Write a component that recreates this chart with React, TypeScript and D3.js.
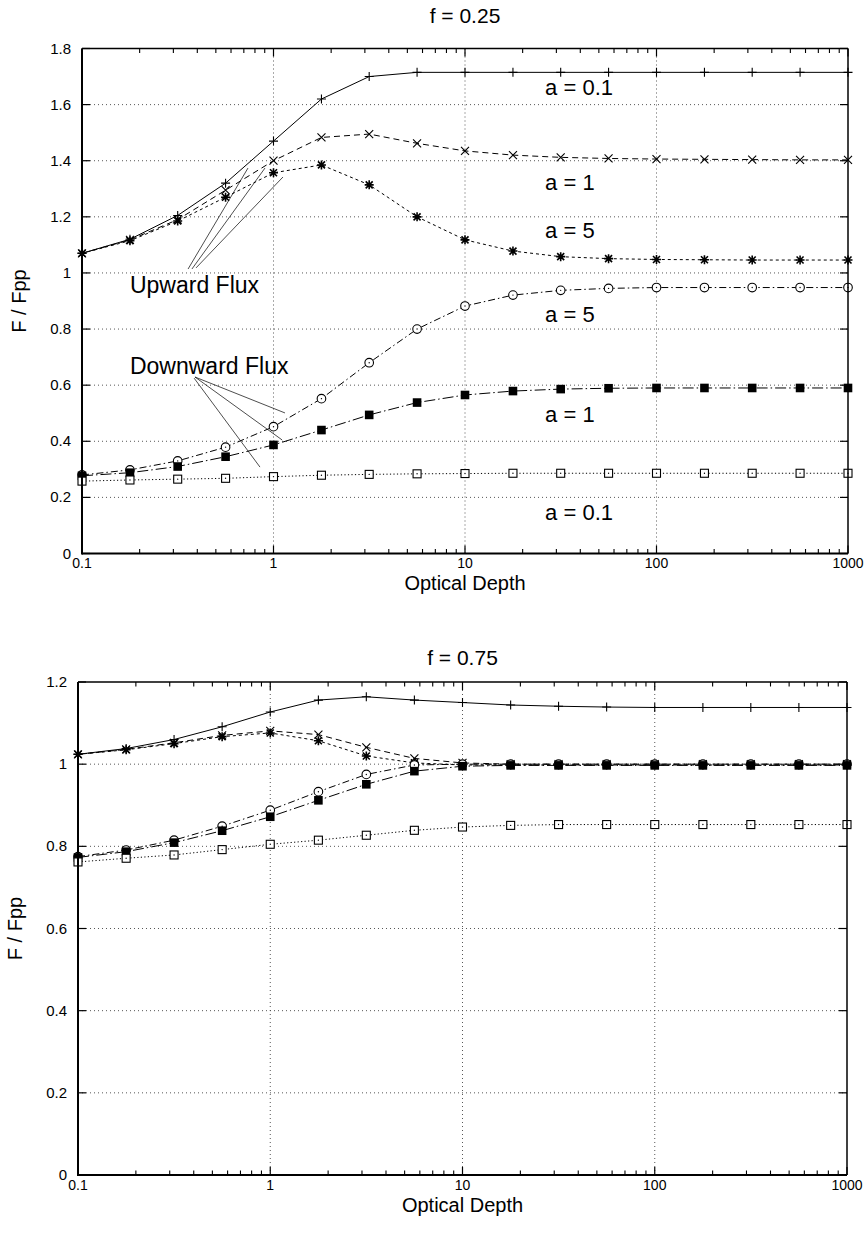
import React from 'react';
import * as d3 from 'd3';

// ---------- DATA ----------
const depths = [0.1, 0.178, 0.316, 0.562, 1, 1.78, 3.16, 5.62, 10, 17.8, 31.6, 56.2, 100, 178, 316, 562, 1000];

const xTicks = [0.1, 1, 10, 100, 1000];
const xTickLabels = ['0.1', '1', '10', '100', '1000'];
const yTicksTop = [0, 0.2, 0.4, 0.6, 0.8, 1, 1.2, 1.4, 1.6, 1.8];
const yTickLabelsTop = ['0', '0.2', '0.4', '0.6', '0.8', '1', '1.2', '1.4', '1.6', '1.8'];
const yTicksBottom = [0, 0.2, 0.4, 0.6, 0.8, 1, 1.2];
const yTickLabelsBottom = ['0', '0.2', '0.4', '0.6', '0.8', '1', '1.2'];

// f = 0.25
const upA01F25 = [1.07, 1.12, 1.205, 1.32, 1.47, 1.62, 1.70, 1.715, 1.715, 1.715, 1.715, 1.715, 1.715, 1.715, 1.715, 1.715, 1.715];
const upA1F25 = [1.07, 1.118, 1.19, 1.295, 1.40, 1.483, 1.495, 1.462, 1.435, 1.42, 1.412, 1.408, 1.406, 1.405, 1.404, 1.403, 1.403];
const upA5F25 = [1.07, 1.115, 1.185, 1.27, 1.357, 1.385, 1.314, 1.20, 1.118, 1.078, 1.058, 1.051, 1.048, 1.047, 1.046, 1.046, 1.046];
const dnA5F25 = [0.28, 0.298, 0.33, 0.379, 0.452, 0.552, 0.68, 0.80, 0.882, 0.921, 0.938, 0.945, 0.948, 0.948, 0.948, 0.948, 0.948];
const dnA1F25 = [0.277, 0.288, 0.31, 0.345, 0.387, 0.44, 0.494, 0.538, 0.565, 0.579, 0.586, 0.589, 0.59, 0.59, 0.59, 0.59, 0.59];
const dnA01F25 = [0.258, 0.262, 0.265, 0.268, 0.274, 0.279, 0.282, 0.284, 0.285, 0.286, 0.286, 0.286, 0.286, 0.286, 0.286, 0.286, 0.286];

// f = 0.75
const upA01F75 = [1.024, 1.038, 1.060, 1.091, 1.127, 1.156, 1.164, 1.156, 1.150, 1.144, 1.141, 1.139, 1.138, 1.138, 1.138, 1.138, 1.138];
const upA1F75 = [1.024, 1.036, 1.052, 1.07, 1.081, 1.072, 1.041, 1.014, 1.003, 1.0, 1.0, 1.0, 1.0, 1.0, 1.0, 1.0, 1.0];
const upA5F75 = [1.024, 1.035, 1.05, 1.067, 1.076, 1.057, 1.02, 1.003, 0.998, 0.998, 0.998, 0.998, 0.998, 0.998, 0.998, 0.998, 0.998];
const dnA5F75 = [0.775, 0.791, 0.815, 0.849, 0.888, 0.933, 0.975, 0.998, 1.0, 1.0, 1.0, 1.0, 1.0, 1.0, 1.0, 1.0, 1.0];
const dnA1F75 = [0.773, 0.787, 0.809, 0.838, 0.872, 0.912, 0.951, 0.983, 0.995, 0.997, 0.997, 0.997, 0.997, 0.997, 0.997, 0.997, 0.997];
const dnA01F75 = [0.762, 0.771, 0.779, 0.792, 0.805, 0.815, 0.827, 0.839, 0.847, 0.851, 0.853, 0.853, 0.853, 0.853, 0.853, 0.853, 0.853];

// annotation texts (data coords: optical depth, F/Fpp)
const curveLabelsTop = [
  { text: 'a = 0.1', x: 26.2, y: 1.634 },
  { text: 'a = 1', x: 26.2, y: 1.296 },
  { text: 'a = 5', x: 26.2, y: 1.125 },
  { text: 'a = 5', x: 26.2, y: 0.825 },
  { text: 'a = 1', x: 26.2, y: 0.469 },
  { text: 'a = 0.1', x: 26.2, y: 0.12 },
];
const fluxLabelsTop = [
  { text: 'Upward Flux', x: 0.178, y: 0.929 },
  { text: 'Downward Flux', x: 0.178, y: 0.640 },
];
// leader lines [x0, y0, x1, y1] in data coords
const leadersTop = [
  [0.358, 1.014, 0.736, 1.374],
  [0.375, 1.014, 0.903, 1.374],
  [0.394, 1.018, 1.121, 1.342],
  [0.389, 0.629, 1.148, 0.501],
  [0.389, 0.629, 1.108, 0.405],
  [0.385, 0.625, 0.850, 0.308],
];

const FONT = '"Liberation Sans", Arial, Helvetica, sans-serif';

type Style = { dash: string; marker: string };
const styles: Style[] = [
  { dash: 'none', marker: 'plus' },
  { dash: '6,4', marker: 'cross' },
  { dash: '3,3', marker: 'star' },
  { dash: '7,3,1.5,3', marker: 'circle' },
  { dash: '11,3,1.5,3', marker: 'fsquare' },
  { dash: '1.2,2.3', marker: 'osquare' },
];

function Marker({ type, x, y }: { type: string; x: number; y: number }) {
  const s = 4.5;
  const st = { stroke: '#000', strokeWidth: 1.1, fill: 'none' };
  if (type === 'plus')
    return <path d={`M${x - s},${y}H${x + s}M${x},${y - s}V${y + s}`} {...st} />;
  if (type === 'cross')
    return <path d={`M${x - 4},${y - 4}L${x + 4},${y + 4}M${x - 4},${y + 4}L${x + 4},${y - 4}`} {...st} />;
  if (type === 'star')
    return (
      <path
        d={`M${x - s},${y}H${x + s}M${x},${y - s}V${y + s}M${x - 3.5},${y - 3.5}L${x + 3.5},${y + 3.5}M${x - 3.5},${y + 3.5}L${x + 3.5},${y - 3.5}`}
        stroke="#000" strokeWidth={1.6} fill="none"
      />
    );
  if (type === 'circle')
    return (
      <g>
        <circle cx={x} cy={y} r={4.3} fill="#fff" stroke="#000" strokeWidth={1.1} />
        <circle cx={x} cy={y} r={0.7} fill="#000" />
      </g>
    );
  if (type === 'fsquare') return <rect x={x - 4.3} y={y - 4.3} width={8.6} height={8.6} fill="#000" />;
  return (
    <g>
      <rect x={x - 4} y={y - 4} width={8} height={8} fill="#fff" stroke="#000" strokeWidth={1.1} />
      <circle cx={x} cy={y} r={0.7} fill="#000" />
    </g>
  );
}

type PanelProps = {
  x0: number; x1: number; yTop: number; yBot: number;
  yMax: number; yTicks: number[]; yLabels: string[];
  title: string; titleY: number; xLabelY: number; xTitleY: number;
  series: number[][];
  curveLabels?: { text: string; x: number; y: number }[];
  fluxLabels?: { text: string; x: number; y: number }[];
  leaders?: number[][];
};

function Panel(p: PanelProps) {
  const x = d3.scaleLog().domain([0.1, 1000]).range([p.x0, p.x1]);
  const y = d3.scaleLinear().domain([0, p.yMax]).range([p.yBot, p.yTop]);
  const line = d3.line<number>().x((_, i) => x(depths[i])).y((v) => y(v));
  const minor: number[] = [];
  for (let dec = 0.1; dec < 1000; dec *= 10) for (let k = 2; k <= 9; k++) minor.push(dec * k);
  const cx = (p.x0 + p.x1) / 2;
  const cy = (p.yTop + p.yBot) / 2;
  return (
    <g fontFamily={FONT}>
      {/* grid */}
      {p.yTicks.slice(1, -1).map((t) => (
        <line key={'gy' + t} x1={p.x0} x2={p.x1} y1={y(t)} y2={y(t)} stroke="#444" strokeWidth={0.9} strokeDasharray="1,3" />
      ))}
      {xTicks.slice(1, -1).map((t) => (
        <line key={'gx' + t} x1={x(t)} x2={x(t)} y1={p.yTop} y2={p.yBot} stroke="#444" strokeWidth={0.9} strokeDasharray="1,3" />
      ))}
      {/* series lines */}
      {p.series.map((s, i) => (
        <path key={'l' + i} d={line(s) || ''} fill="none" stroke="#000" strokeWidth={1}
          strokeDasharray={styles[i].dash === 'none' ? undefined : styles[i].dash} />
      ))}
      {/* markers */}
      {p.series.map((s, i) => (
        <g key={'m' + i}>
          {s.map((v, j) => <Marker key={j} type={styles[i].marker} x={x(depths[j])} y={y(v)} />)}
        </g>
      ))}
      {/* leaders */}
      {(p.leaders || []).map((l, i) => (
        <line key={'ld' + i} x1={x(l[0])} y1={y(l[1])} x2={x(l[2])} y2={y(l[3])} stroke="#000" strokeWidth={0.7} />
      ))}
      {/* frame */}
      <line x1={p.x0} x2={p.x1} y1={p.yTop} y2={p.yTop} stroke="#000" strokeWidth={1.5} />
      <line x1={p.x1} x2={p.x1} y1={p.yTop} y2={p.yBot} stroke="#000" strokeWidth={1.5} />
      <line x1={p.x0} x2={p.x0} y1={p.yTop} y2={p.yBot + 1} stroke="#000" strokeWidth={2} />
      <line x1={p.x0} x2={p.x1} y1={p.yBot} y2={p.yBot} stroke="#000" strokeWidth={2} />
      {/* ticks */}
      {xTicks.map((t) => (
        <g key={'xt' + t}>
          <line x1={x(t)} x2={x(t)} y1={p.yBot} y2={p.yBot - 8} stroke="#000" strokeWidth={1.2} />
          <line x1={x(t)} x2={x(t)} y1={p.yTop} y2={p.yTop + 8} stroke="#000" strokeWidth={1.2} />
        </g>
      ))}
      {minor.map((t) => (
        <g key={'mt' + t}>
          <line x1={x(t)} x2={x(t)} y1={p.yBot} y2={p.yBot - 4.5} stroke="#000" strokeWidth={1.1} />
          <line x1={x(t)} x2={x(t)} y1={p.yTop} y2={p.yTop + 4.5} stroke="#000" strokeWidth={1.1} />
        </g>
      ))}
      {p.yTicks.map((t) => (
        <g key={'yt' + t}>
          <line x1={p.x0} x2={p.x0 + 8} y1={y(t)} y2={y(t)} stroke="#000" strokeWidth={1.2} />
          <line x1={p.x1} x2={p.x1 - 8} y1={y(t)} y2={y(t)} stroke="#000" strokeWidth={1.2} />
        </g>
      ))}
      {/* tick labels */}
      {xTicks.map((t, i) => (
        <text key={'xl' + t} x={x(t)} y={p.xLabelY} fontSize={14} textAnchor="middle">{xTickLabels[i]}</text>
      ))}
      {p.yTicks.map((t, i) => (
        <text key={'yl' + t} x={p.x0 - 11} y={y(t) + 5} fontSize={15} textAnchor="end">{p.yLabels[i]}</text>
      ))}
      {/* titles */}
      <text x={cx} y={p.titleY} fontSize={21} textAnchor="middle">{p.title}</text>
      <text x={cx} y={p.xTitleY} fontSize={20} textAnchor="middle">Optical Depth</text>
      <text transform={`translate(${p.x0 - 56},${cy}) rotate(-90)`} fontSize={20} textAnchor="middle">F / Fpp</text>
      {(p.curveLabels || []).map((c, i) => (
        <text key={'cl' + i} x={x(c.x)} y={y(c.y)} fontSize={22}>{c.text}</text>
      ))}
      {(p.fluxLabels || []).map((c, i) => (
        <text key={'fl' + i} x={x(c.x)} y={y(c.y)} fontSize={23}>{c.text}</text>
      ))}
    </g>
  );
}

export default function App() {
  return (
    <svg width={865} height={1234} style={{ position: 'absolute', left: 0, top: 0, background: '#fff' }}>
      <rect width={865} height={1234} fill="#fff" />
      <Panel x0={82} x1={848} yTop={48.5} yBot={553.5} yMax={1.8}
        yTicks={yTicksTop} yLabels={yTickLabelsTop}
        title="f = 0.25" titleY={23} xLabelY={568} xTitleY={590}
        series={[upA01F25, upA1F25, upA5F25, dnA5F25, dnA1F25, dnA01F25]}
        curveLabels={curveLabelsTop} fluxLabels={fluxLabelsTop} leaders={leadersTop} />
      <Panel x0={78} x1={847} yTop={682} yBot={1175} yMax={1.2}
        yTicks={yTicksBottom} yLabels={yTickLabelsBottom}
        title="f = 0.75" titleY={665} xLabelY={1190} xTitleY={1212}
        series={[upA01F75, upA1F75, upA5F75, dnA5F75, dnA1F75, dnA01F75]} />
    </svg>
  );
}
